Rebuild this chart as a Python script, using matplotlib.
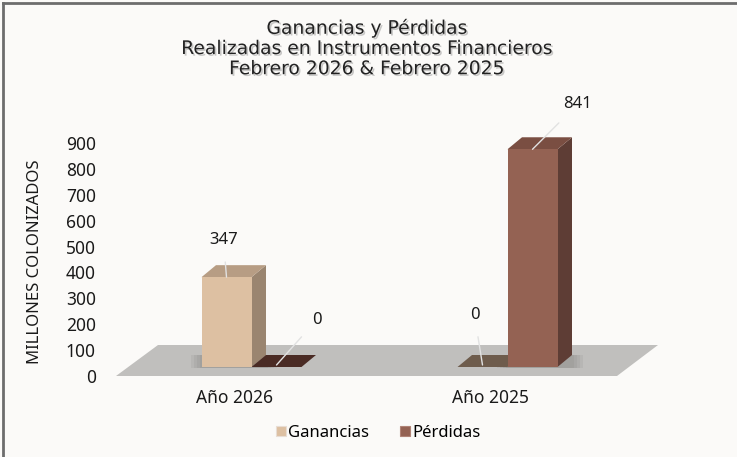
import matplotlib
matplotlib.use("Agg")
import matplotlib.pyplot as plt
from matplotlib.patches import Polygon
from matplotlib.lines import Line2D
import matplotlib.patheffects as pe

# ---------------- data ----------------
categories = ["Año 2026", "Año 2025"]
series_names = ["Ganancias", "Pérdidas"]
ganancias = [347, 0]
perdidas = [0, 841]
yticks = [0, 100, 200, 300, 400, 500, 600, 700, 800, 900]
title = "Ganancias y Pérdidas\nRealizadas en Instrumentos Financieros\nFebrero 2026 & Febrero 2025"
ylabel = "MILLONES COLONIZADOS"

# ---------------- style ----------------
W, H = 737, 457
BG = "#FBFAF8"
front_cols = ["#DDC0A2", "#946253"]
side_cols = ["#9A8570", "#5E3D35"]
top_cols = ["#B79D84", "#7A4E42"]
zero_top_cols = ["#6E5C4C", "#4A2B24"]
FLOOR = "#C0BFBD"

fig = plt.figure(figsize=(W / 100, H / 100), dpi=100, facecolor=BG)

# axes placement in pixels
ax_l, ax_r, ax_t, ax_b = 100, 720, 100, 385
ax = fig.add_axes([ax_l / W, 1 - ax_b / H, (ax_r - ax_l) / W, (ax_b - ax_t) / H])
ax.set_facecolor("none")
px_per_unit_y = 233 / 900.0
px_per_cat = 256.0
x0_px = 235.0
y0_px = 376.0
ax.set_xlim((ax_l - x0_px) / px_per_cat, (ax_r - x0_px) / px_per_cat)
ax.set_ylim((y0_px - ax_b) / px_per_unit_y, (y0_px - ax_t) / px_per_unit_y)

def px_x(dx):
    return dx / px_per_cat

def px_y(dy):
    return dy / px_per_unit_y

# floor (parallelogram)
floor = Polygon([(px_x(116 - x0_px), 0), (px_x(617 - x0_px), 0),
                 (px_x(658 - x0_px), px_y(31)), (px_x(158 - x0_px), px_y(31))],
                closed=True, facecolor=FLOOR, edgecolor="none", zorder=1, clip_on=False)
ax.add_patch(floor)

# 3D-like bars
base = px_y(9)
group_off = px_x(16.5)
bw = px_x(50)
ddx = px_x(14.5)
ddy = px_y(12)
series = [ganancias, perdidas]

for s, vals in enumerate(series):
    for i, v in enumerate(vals):
        xc = i + group_off + (s - 0.5) * bw
        xl, xr = xc - bw / 2, xc + bw / 2
        if v > 0:
            # soft shadow on floor (layered)
            for k in range(4):
                g = px_x(2 + 3 * k)
                sh = Polygon([(xl - g, base - px_y(1)), (xr + ddx + g, base - px_y(1)),
                              (xr + ddx + g, base + ddy), (xl - g, base + ddy)],
                             closed=True, facecolor="#777673", alpha=0.12, edgecolor="none", zorder=2)
                ax.add_patch(sh)
            ax.bar(xc, v, width=bw, bottom=base, color=front_cols[s], edgecolor="none", zorder=4)
            side = Polygon([(xr, base), (xr, base + v), (xr + ddx, base + v + ddy), (xr + ddx, base + ddy)],
                           closed=True, facecolor=side_cols[s], edgecolor="none", zorder=3)
            top = Polygon([(xl, base + v), (xr, base + v), (xr + ddx, base + v + ddy), (xl + ddx, base + v + ddy)],
                          closed=True, facecolor=top_cols[s], edgecolor="none", zorder=3)
            ax.add_patch(side)
            ax.add_patch(top)
        else:
            top = Polygon([(xl, base), (xr, base), (xr + ddx, base + ddy), (xl + ddx, base + ddy)],
                          closed=True, facecolor=zero_top_cols[s], edgecolor="none", zorder=3)
            ax.add_patch(top)

# value labels with leader lines (offsets in pixels)
label_offsets = {(0, 0): (-3, 37), (1, 0): (40, 45), (0, 1): (-8, 50), (1, 1): (45, 45)}
for s, vals in enumerate(series):
    for i, v in enumerate(vals):
        xc = i + group_off + (s - 0.5) * bw
        off = label_offsets[(s, i)]
        if v > 0:
            xy = (xc, base + v)
        else:
            xy = (xc, base + px_y(2))
        ax.annotate(str(v), xy=xy, xytext=off, textcoords="offset pixels",
                    ha="center", va="center", fontsize=12, family="Noto Sans", color="#1a1a1a",
                    zorder=6,
                    arrowprops=dict(arrowstyle="-", color="#E2E2E2", lw=1.0, shrinkA=8, shrinkB=0))

# axes cosmetics
for sp in ax.spines.values():
    sp.set_visible(False)
ax.set_yticks(yticks)
ax.set_yticklabels([str(t) for t in yticks], fontsize=12.5, family="Noto Sans", color="#1a1a1a")
ax.set_xticks(range(len(categories)))
ax.set_xticklabels(categories, fontsize=12.5, family="Noto Sans", color="#1a1a1a")
ax.tick_params(axis="both", length=0)
ax.tick_params(axis="y", pad=3)
ax.tick_params(axis="x", pad=3)
fig.text(35 / W, 1 - 262 / H, ylabel, rotation=90, ha="center", va="center",
         fontsize=12, family="Noto Sans", color="#1a1a1a")

# title
fig.text(367 / W, 1 - 48 / H, title, ha="center", va="center", fontsize=13.5,
         family="DejaVu Sans", color="#222222", linespacing=1.08,
         path_effects=[pe.withSimplePatchShadow(offset=(1.2, -1.2), shadow_rgbFace="#888888", alpha=0.45)])

# legend
handles = [Line2D([], [], marker="s", linestyle="none", markersize=7,
                  markerfacecolor=front_cols[k], markeredgecolor="#E8DDD4" if k == 0 else "#B08376",
                  markeredgewidth=0.8) for k in range(2)]
fig.legend(handles, series_names, loc="center", bbox_to_anchor=(378 / W, 1 - 433 / H), ncol=2,
           frameon=False, prop={"family": "Noto Sans", "size": 12}, handlelength=0.7,
           handletextpad=0.1, columnspacing=1.8)

# partial frame (top and left edges)
fig.add_artist(Line2D([2.5 / W, 2.5 / W], [0, 1 - 2.5 / H], color="#6d6d6d", lw=2))
fig.add_artist(Line2D([2.5 / W, 1], [1 - 2.5 / H, 1 - 2.5 / H], color="#6d6d6d", lw=2))

fig.savefig("out.png", dpi=100, facecolor=BG)
